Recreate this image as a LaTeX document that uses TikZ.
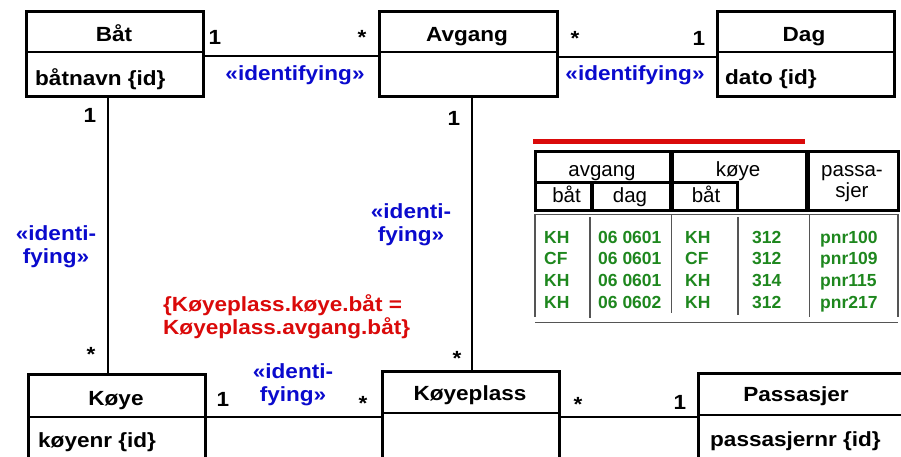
\documentclass[tikz,border=0pt]{standalone}
\usepackage{fontspec}
\setmainfont{Liberation Sans}
\newfontfamily\umlfont{Liberation Sans}[FakeStretch=1.1]
\definecolor{umlblue}{RGB}{10,10,205}
\definecolor{umlred}{RGB}{218,10,10}
\definecolor{umlgreen}{RGB}{30,135,30}
\definecolor{rulegray}{RGB}{85,85,85}
\begin{document}
\begin{tikzpicture}[x=1pt,y=-1pt,
  umltext/.style={font=\umlfont\bfseries\fontsize{20.5}{23}\selectfont, inner sep=0pt},
  cls/.style={draw, line width=3pt, anchor=north west, inner sep=0pt},
  divider/.style={line width=1.5pt},
  conn/.style={line width=2pt},
  title/.style={umltext, anchor=base},
  attr/.style={umltext, anchor=base west},
  mult/.style={umltext, anchor=base},
  stereo/.style={umltext, text=umlblue, align=center, anchor=base},
  constraint/.style={umltext, text=umlred, align=left, anchor=base west},
  tabframe/.style={line width=3pt},
  tabrule/.style={line width=1.5pt, draw=rulegray},
  headtext/.style={font=\fontsize{20.5}{21}\selectfont, inner sep=0pt, anchor=base},
  celltext/.style={font=\bfseries\fontsize{17.5}{21.7}\selectfont, text=umlgreen, inner sep=0pt, anchor=base west, align=left}]
\useasboundingbox (0,0) rectangle (901,456);
\clip (0,0) rectangle (901,456);

% classes
\node[cls, minimum width=177pt, minimum height=85.5pt] (bat) at (25,9.5) {};
\node[cls, minimum width=178pt, minimum height=85.5pt] (avgang) at (378,9.5) {};
\node[cls, minimum width=176.5pt, minimum height=85.5pt] (dag) at (716,9.5) {};
\node[cls, minimum width=177pt, minimum height=100pt] (koye) at (27,373) {};
\node[cls, minimum width=177pt, minimum height=100pt] (koyeplass) at (381,370) {};
\node[cls, minimum width=230pt, minimum height=100pt] (passasjer) at (697,372) {};

% compartment lines
\draw[divider] ([yshift=-42.5pt]bat.north west) -- ([yshift=-42.5pt]bat.north east);
\draw[divider] ([yshift=-42.5pt]avgang.north west) -- ([yshift=-42.5pt]avgang.north east);
\draw[divider] ([yshift=-42.5pt]dag.north west) -- ([yshift=-42.5pt]dag.north east);
\draw[divider] ([yshift=-44pt]koye.north west) -- ([yshift=-44pt]koye.north east);
\draw[divider] ([yshift=-43pt]koyeplass.north west) -- ([yshift=-43pt]koyeplass.north east);
\draw[divider] ([yshift=-43pt]passasjer.north west) -- ([yshift=-43pt]passasjer.north east);

% class names and attributes
\node[title] (batname) at (114,41) {Båt};
\node[title] (avgangname) at (467,41) {Avgang};
\node[title] (dagname) at (804,41) {Dag};
\node[title] (koyename) at (116,405) {Køye};
\node[title] (koyeplassname) at (470,400.5) {Køyeplass};
\node[title] (passasjername) at (796,401.5) {Passasjer};
\node[attr] (batattr) at (35,85) {båtnavn \{id\}};
\node[attr] (dagattr) at (725,84) {dato \{id\}};
\node[attr] (koyeattr) at (38,447) {køyenr \{id\}};
\node[attr] (passasjerattr) at (710,446) {passasjernr \{id\}};

% associations
\draw[conn] ([yshift=-46.5pt]bat.north east) -- ([yshift=-46.5pt]bat.north east -| avgang.west);
\draw[conn] ([yshift=-47.5pt]avgang.north east) -- ([yshift=-47.5pt]avgang.north east -| dag.west);
\draw[conn] ([xshift=83pt]bat.south west) -- ([xshift=83pt]bat.south west |- koye.north);
\draw[conn] ([xshift=94pt]avgang.south west) -- ([xshift=94pt]avgang.south west |- koyeplass.north);
\draw[conn] ([yshift=-44pt]koye.north east) -- ([yshift=-44pt]koye.north east -| koyeplass.west);
\draw[conn] ([yshift=-47pt]koyeplass.north east) -- ([yshift=-47pt]koyeplass.north east -| passasjer.west);

% multiplicities
\node[mult] (m1) at (215,44) {1};
\node[mult] (m2) at (362,44.5) {*};
\node[mult] (m3) at (575,45) {*};
\node[mult] (m4) at (699,45) {1};
\node[mult] (m5) at (90,122) {1};
\node[mult] (m6) at (454,125) {1};
\node[mult] (m7) at (91,361) {*};
\node[mult] (m8) at (457,365) {*};
\node[mult] (m9) at (223,406) {1};
\node[mult] (m10) at (363,410.5) {*};
\node[mult] (m11) at (578,411) {*};
\node[mult] (m12) at (680,409) {1};

% stereotypes (base anchor sits on the last line)
\node[stereo] (s1) at (295,80) {«identifying»};
\node[stereo] (s2) at (635,80) {«identifying»};
\node[stereo] (s3) at (56,263.5) {«identi-\\fying»};
\node[stereo] (s4) at (411,241.5) {«identi-\\fying»};
\node[stereo] (s5) at (293,401) {«identi-\\fying»};

% constraint
\node[constraint] (c1) at (163,334) {\{Køyeplass.køye.båt =\\Køyeplass.avgang.båt\}};

% example table
\draw[umlred, line width=4.5pt] (533,141.7) -- (805,141.7);
\draw[tabframe] (535,151) rectangle (670,210);
\draw[tabframe] (672,151) rectangle (806,210);
\draw[tabframe] (808,151) rectangle (898,210);
\draw[tabframe] (535,182) rectangle (591,210);
\draw[tabframe] (592,182) rectangle (670,210);
\draw[tabframe] (672,182) rectangle (737,210);
\node[headtext] (h1) at (602,176.5) {avgang};
\node[headtext] (h2) at (738,176.5) {køye};
\node[headtext] (h3) at (566.5,202.5) {båt};
\node[headtext] (h4) at (630,202.5) {dag};
\node[headtext] (h5) at (706,202.5) {båt};
\node[headtext, align=center] (h6) at (852,197) {passa-\\sjer};

\draw[tabrule] (535,214.3) -- (898,214.3);
\draw[tabrule] (535,322.7) -- (898,322.7);
\draw[tabrule] (535,214) -- (535,317);
\draw[tabrule] (590,217) -- (590,318);
\draw[tabrule] (671.7,214) -- (671.7,312.7);
\draw[tabrule] (738,217) -- (738,315);
\draw[tabrule] (809.3,214) -- (809.3,316.7);
\draw[tabrule] (898,214) -- (898,317);

\node[celltext] (d1) at (544,308.3) {KH\\CF\\KH\\KH};
\node[celltext] (d2) at (598,308.3) {06 0601\\06 0601\\06 0601\\06 0602};
\node[celltext] (d3) at (685,308.3) {KH\\CF\\KH\\KH};
\node[celltext] (d4) at (752,308.3) {312\\312\\314\\312};
\node[celltext] (d5) at (820,308.3) {pnr100\\pnr109\\pnr115\\pnr217};
\end{tikzpicture}
\end{document}
